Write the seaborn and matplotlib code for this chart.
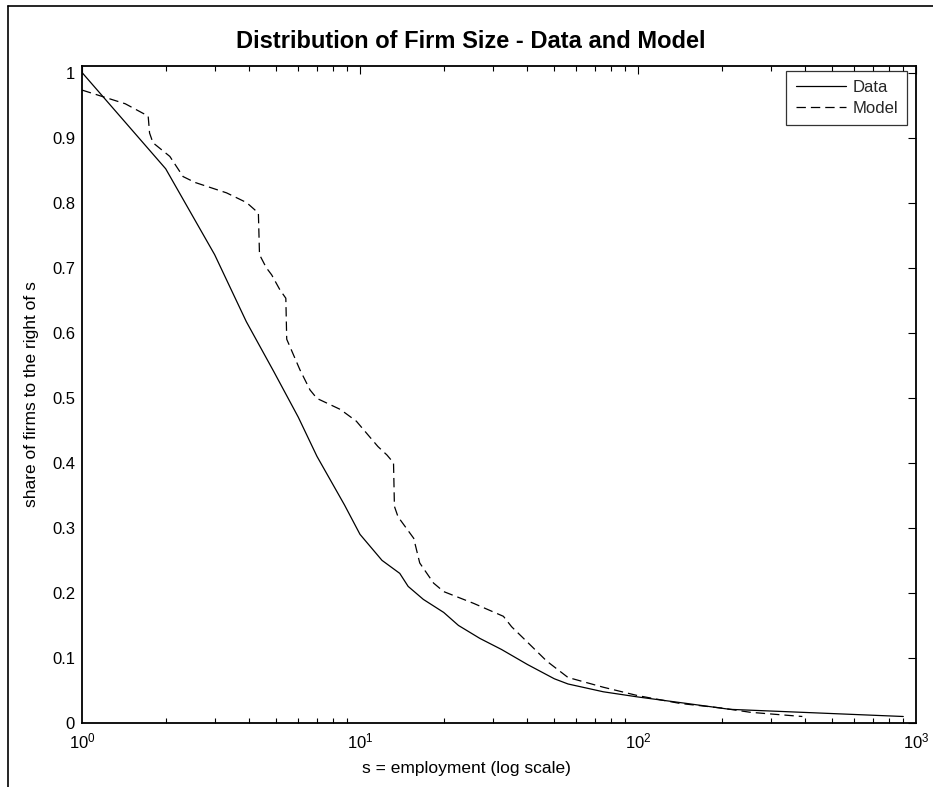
import numpy as np
import pandas as pd
import matplotlib
matplotlib.use("Agg")
import matplotlib.pyplot as plt
from matplotlib.lines import Line2D
from matplotlib.ticker import LogLocator, FixedLocator
import seaborn as sns

# Empirical firm-size distribution: share of firms larger than s
data_size = [1.0, 2.0, 3.0, 3.9, 4.9, 6.0, 7.0, 8.8, 10.0, 12.0, 13.9, 14.9,
             16.9, 20.0, 22.6, 27.0, 32.3, 40.0, 50.0, 56.0, 75.0, 100.0,
             150.0, 214.0, 900.0]
data_share = [1.0, 0.852, 0.72, 0.617, 0.54, 0.47, 0.41, 0.335, 0.29, 0.25,
              0.23, 0.21, 0.19, 0.17, 0.15, 0.13, 0.113, 0.09, 0.068, 0.06,
              0.048, 0.04, 0.03, 0.021, 0.01]

# Model-implied distribution
model_size = [1.0, 1.43, 1.73, 1.75, 1.80, 2.07, 2.31, 2.55, 3.31, 3.91, 4.31,
              4.35, 4.60, 4.81, 5.15, 5.41, 5.45, 6.08, 6.61, 7.0, 8.5, 9.7,
              11.6, 12.5, 13.2, 13.3, 13.7, 15.6, 16.4, 18.4, 20.0, 25.6, 32.8,
              35.1, 40.3, 47.0, 56.0, 75.0, 100.0, 142.0, 200.0, 253.0, 298.0,
              390.0]
model_share = [0.973, 0.952, 0.933, 0.907, 0.892, 0.871, 0.840, 0.831, 0.815,
               0.800, 0.784, 0.720, 0.700, 0.689, 0.666, 0.653, 0.590, 0.543,
               0.512, 0.499, 0.482, 0.464, 0.425, 0.412, 0.400, 0.333, 0.317,
               0.284, 0.246, 0.215, 0.202, 0.184, 0.164, 0.148, 0.123, 0.095,
               0.070, 0.055, 0.042, 0.030, 0.023, 0.0165, 0.014, 0.010]

y_ticks = [0, 0.1, 0.2, 0.3, 0.4, 0.5, 0.6, 0.7, 0.8, 0.9, 1]
y_tick_labels = ["0", "0.1", "0.2", "0.3", "0.4", "0.5", "0.6", "0.7", "0.8", "0.9", "1"]

sns.set_theme(style="white")
plt.rcParams["font.family"] = ["Liberation Sans", "DejaVu Sans"]
plt.rcParams["mathtext.fontset"] = "custom"
plt.rcParams["mathtext.rm"] = "Liberation Sans"
plt.rcParams["mathtext.default"] = "regular"

W, H = 933, 787
fig = plt.figure(figsize=(W / 100, H / 100), dpi=100)
fig.patch.set_facecolor("white")
ax = fig.add_axes([82 / W, 1 - 723 / H, (916 - 82) / W, (723 - 66) / H])

df_data = pd.DataFrame({"s": data_size, "share": data_share})
df_model = pd.DataFrame({"s": model_size, "share": model_share})

sns.lineplot(data=df_data, x="s", y="share", ax=ax, color="black", lw=0.9,
             estimator=None, sort=False, label="Data")
sns.lineplot(data=df_model, x="s", y="share", ax=ax, color="black", lw=0.9,
             estimator=None, sort=False, label="Model", dashes=False)
ax.lines[1].set_linestyle((0, (7.5, 4)))

ax.set_xscale("log")
ax.set_xlim(1, 1000)
ax.set_ylim(0, 1.01)
ax.xaxis.set_major_locator(LogLocator(base=10, numticks=10))
ax.xaxis.set_minor_locator(LogLocator(base=10, subs=np.arange(2, 10), numticks=20))
ax.yaxis.set_major_locator(FixedLocator(y_ticks))
ax.set_yticklabels(y_tick_labels)

for side in ["left", "right", "top", "bottom"]:
    ax.spines[side].set_visible(True)
    ax.spines[side].set_color("black")
    ax.spines[side].set_linewidth(1.3)

ax.tick_params(which="major", direction="in", length=6, width=0.8, color="black",
               top=True, right=True, labelsize=12, pad=6, labelcolor="black")
ax.tick_params(which="minor", direction="in", length=3.5, width=0.8, color="black",
               top=True, bottom=True, left=False, right=False)
ax.tick_params(axis="y", which="major", pad=5)

# Title and x label are centred on the figure width
ax.set_xlabel("")
fig.text(0.505, 1 - 42 / H, "Distribution of Firm Size - Data and Model",
         fontsize=17, fontweight="bold", color="black", ha="center", va="center")
fig.text(0.5, 1 - 768 / H, "s = employment (log scale)", fontsize=12.5,
         color="black", ha="center", va="center")
ax.set_ylabel("share of firms to the right of s", fontsize=12.5, color="black", labelpad=9)

leg = ax.legend(loc="upper right", bbox_to_anchor=(907 / W, 1 - 71 / H),
                bbox_transform=fig.transFigure, borderaxespad=0,
                fontsize=12, frameon=True, fancybox=False, edgecolor="black",
                handlelength=3.0, handletextpad=0.4, borderpad=0.55,
                labelspacing=0.35)
leg.get_frame().set_linewidth(0.9)

# Outer frame lines along the top and left edge of the figure
fig.add_artist(Line2D([8 / W, 8 / W], [0, 1 - 6 / H], transform=fig.transFigure,
                      color="black", lw=1.2))
fig.add_artist(Line2D([8 / W, 1], [1 - 6 / H, 1 - 6 / H], transform=fig.transFigure,
                      color="black", lw=1.2))

fig.savefig("out.png", dpi=100, facecolor="white")
